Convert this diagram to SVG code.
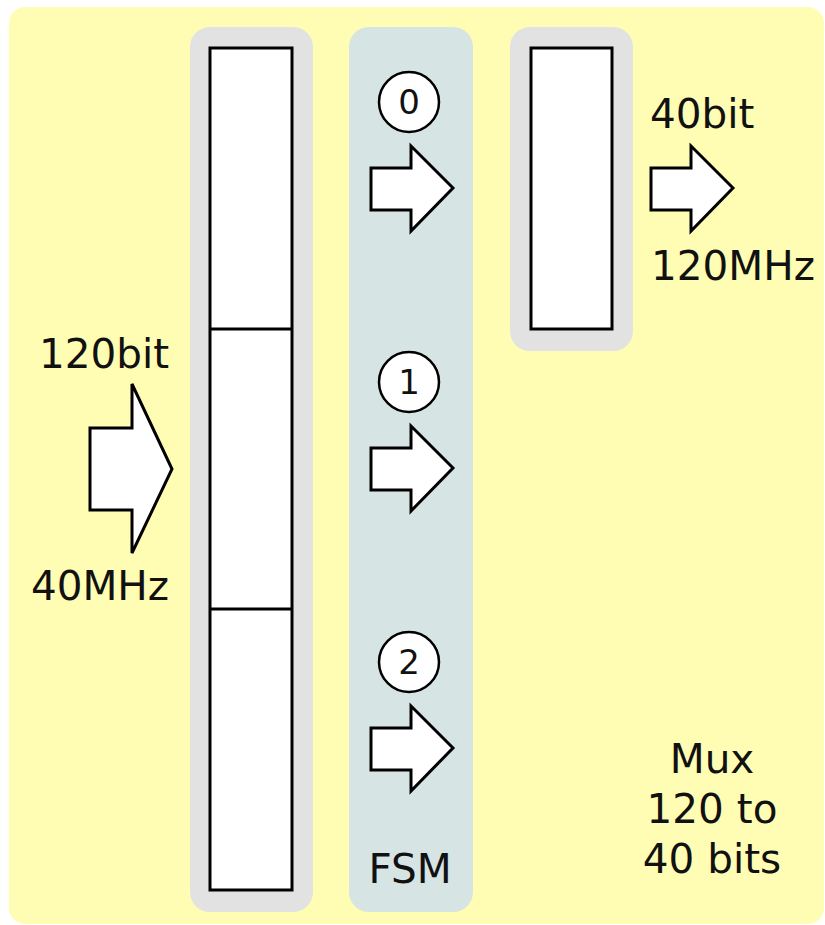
<svg xmlns="http://www.w3.org/2000/svg" width="825" height="925" viewBox="0 0 825 925">
<defs>
<style>
.t{font-family:"DejaVu Sans","Liberation Sans",sans-serif;fill:#111}
.big{font-size:40.5px}
.dig{font-size:34px;text-anchor:middle}
.reg{fill:#fff;stroke:#000;stroke-width:3}
.arr{fill:#fff;stroke:#000;stroke-width:3;stroke-linejoin:miter}
.circ{fill:#fff;stroke:#000;stroke-width:2.5}
</style>
<polygon id="fsmArrow" class="arr" points="0,-20 40,-20 40,-42 82,0 40,43 40,22 0,22"/>
</defs>
<rect id="background" x="9" y="7" width="815" height="917" rx="16" fill="#fffdb3"/>
<g id="input-register">
<rect x="190" y="27" width="123" height="885" rx="20" fill="#e2e2e2"/>
<rect class="reg" x="210" y="48" width="82" height="842"/>
<line x1="210" y1="329" x2="292" y2="329" stroke="#000" stroke-width="3"/>
<line x1="210" y1="609" x2="292" y2="609" stroke="#000" stroke-width="3"/>
</g>
<g id="fsm">
<rect x="349" y="27" width="124" height="885" rx="20" fill="#d6e4e4"/>
<text class="t big" x="410" y="883" text-anchor="middle">FSM</text>
</g>
<g id="state0">
<circle class="circ" cx="409" cy="102" r="30"/>
<text class="t dig" x="409" y="114">0</text>
</g>
<g id="state1">
<circle class="circ" cx="409" cy="382" r="30"/>
<text class="t dig" x="409" y="394">1</text>
</g>
<g id="state2">
<circle class="circ" cx="409" cy="662" r="30"/>
<text class="t dig" x="409" y="674">2</text>
</g>
<g id="output-register">
<rect x="510" y="27" width="123" height="324" rx="20" fill="#e2e2e2"/>
<rect class="reg" x="531" y="48" width="81" height="281"/>
</g>
<g id="connectors">
<polygon id="in-arrow" class="arr" points="90,428 132,428 132,384 172,469 132,553 132,510 90,510"/>
<use href="#fsmArrow" x="371" y="188"/>
<use href="#fsmArrow" x="371" y="468"/>
<use href="#fsmArrow" x="371" y="748"/>
<use href="#fsmArrow" x="651" y="188"/>
</g>
<g id="labels">
<text class="t big" x="104" y="368" text-anchor="middle">120bit</text>
<text class="t big" x="100" y="600" text-anchor="middle">40MHz</text>
<text class="t big" x="650" y="128">40bit</text>
<text class="t big" x="651" y="280">120MHz</text>
<text class="t big" x="712" y="773" text-anchor="middle">Mux</text>
<text class="t big" x="712" y="823" text-anchor="middle">120 to</text>
<text class="t big" x="712" y="873" text-anchor="middle">40 bits</text>
</g>
</svg>
